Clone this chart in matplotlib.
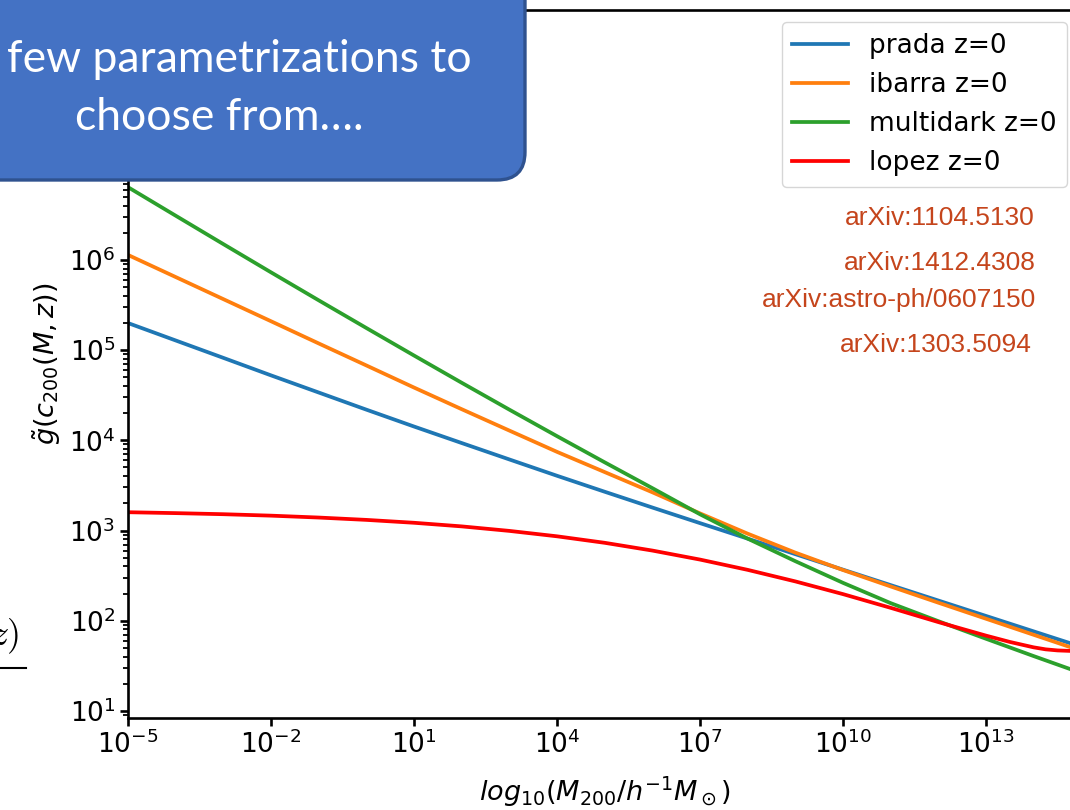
import numpy as np
import matplotlib
matplotlib.use('Agg')
import matplotlib.pyplot as plt
from matplotlib.patches import FancyBboxPatch
from matplotlib.lines import Line2D

# log10 of the halo mass grid (M200 / h^-1 Msun)
log_m = [-5, -4, -3, -2, -1, 0, 1, 2, 3, 4, 5, 6, 7, 8, 9, 10, 11, 12, 13, 14, 15]

# log10 of g~(c200) for each concentration model, z=0
log_g_prada = [5.30, 5.107, 4.914, 4.72, 4.53, 4.34, 4.153, 3.97, 3.788, 3.607, 3.43,
               3.255, 3.082, 2.91, 2.738, 2.566, 2.395, 2.224, 2.053, 1.882, 1.711]
log_g_ibarra = [6.055, 5.81, 5.565, 5.32, 5.074, 4.83, 4.585, 4.345, 4.108, 3.872, 3.648,
                3.424, 3.19, 2.965, 2.755, 2.562, 2.38, 2.20, 2.022, 1.844, 1.666]
log_g_multidark = [6.806, 6.49, 6.175, 5.862, 5.552, 5.245, 4.94, 4.638, 4.34, 4.046, 3.756,
                   3.47, 3.18, 2.91, 2.66, 2.42, 2.195, 1.995, 1.80, 1.608, 1.42]

# lopez bends over at the high mass end, so it gets a few extra points there
log_m_lopez = [-5, -4, -3, -2, -1, 0, 1, 2, 3, 4, 5, 6, 7, 8, 9, 10, 11, 12, 13,
               13.5, 14, 14.25, 14.5, 15]
log_g_lopez = [3.203, 3.193, 3.181, 3.165, 3.144, 3.118, 3.086, 3.046, 2.996, 2.936, 2.864,
               2.778, 2.678, 2.564, 2.436, 2.295, 2.143, 1.985, 1.835,
               1.765, 1.705, 1.683, 1.671, 1.661]

labels = ['prada z=0', 'ibarra z=0', 'multidark z=0', 'lopez z=0']
colors = ['tab:blue', 'tab:orange', 'tab:green', 'red']
refs = ['arXiv:1104.5130', 'arXiv:1412.4308', 'arXiv:astro-ph/0607150', 'arXiv:1303.5094']

W, H = 1070, 810
plt.rcParams['font.size'] = 19
plt.rcParams['axes.linewidth'] = 1.9
plt.rcParams['xtick.major.width'] = 1.9
plt.rcParams['ytick.major.width'] = 1.9
plt.rcParams['ytick.minor.width'] = 1.3
plt.rcParams['xtick.major.size'] = 5.5
plt.rcParams['ytick.major.size'] = 5.5
plt.rcParams['ytick.minor.size'] = 3.5

fig = plt.figure(figsize=(W / 100, H / 100), dpi=100)
ax = fig.add_axes([128 / W, 1 - 718 / H, (1081.4 - 128) / W, (718 - 10) / H])

m = 10.0 ** np.array(log_m)
for lg, lab, c in zip([log_g_prada, log_g_ibarra, log_g_multidark], labels[:3], colors[:3]):
    ax.plot(m, 10.0 ** np.array(lg), color=c, lw=2.7, label=lab)
ax.plot(10.0 ** np.array(log_m_lopez), 10.0 ** np.array(log_g_lopez),
        color=colors[3], lw=2.7, label=labels[3])

ax.set_xscale('log')
ax.set_yscale('log')
ax.set_xlim(1e-5, 1e15)
ax.set_ylim(10 ** 0.922, 10 ** 8.77)
ax.set_xticks([10.0 ** k for k in range(-5, 14, 3)])
ax.xaxis.set_minor_locator(matplotlib.ticker.NullLocator())
ax.set_xlabel(r'$log_{10}(M_{200}/h^{-1}M_\odot)$', fontsize=19.5, labelpad=11)
ax.set_ylabel(r'$\tilde{g}(c_{200}(M,z))$', fontsize=19.5)

fig.legend(loc='upper right', bbox_to_anchor=(1080 / W, 1 - 9 / H),
           bbox_transform=fig.transFigure, fontsize=19, handlelength=2.1)

# overlay in pixel coordinates for the slide annotations
ov = fig.add_axes([0, 0, 1, 1], zorder=10)
ov.set_xlim(0, W)
ov.set_ylim(H, 0)
ov.axis('off')
ov.patch.set_alpha(0)

box = FancyBboxPatch((-40, -40), 565, 220, boxstyle='round,pad=0,rounding_size=28',
                     fc='#4472C4', ec='#2F528F', lw=2.4)
ov.add_patch(box)
ov.text(239, 60, 'few parametrizations to', color='white', fontsize=32,
        family='Lato', ha='center', va='center')
ov.text(219, 117, 'choose from\u2026.', color='white', fontsize=32,
        family='Lato', ha='center', va='center')

for txt, xr, yc in zip(refs, [1035, 1036, 1036, 1032], [218, 263, 300, 345]):
    ov.text(xr, yc, txt, color='#C5451C', fontsize=19, family='Liberation Sans',
            ha='right', va='center')

# cut-off bit of the slide formula at the left edge
plt.rcParams['mathtext.fontset'] = 'cm'
ov.text(19, 636, r'$z)$', fontsize=26, ha='right', va='center')
ov.add_line(Line2D([0, 26], [668, 668], color='black', lw=1.5))

fig.savefig('out.png', dpi=100)
